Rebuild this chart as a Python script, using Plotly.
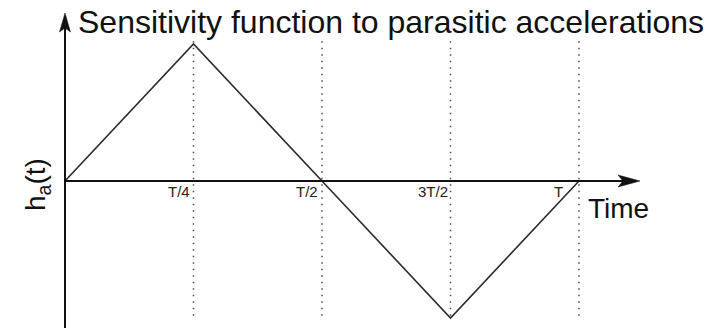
import plotly.graph_objects as go

# ---- data ----
t_values = [0, 0.25, 0.5, 0.75, 1.0]
h_values = [0, 1, 0, -1, 0]
tick_positions = [0.25, 0.5, 0.75, 1.0]
tick_labels = ["T/4", "T/2", "3T/2", "T"]
title_text = "Sensitivity function to parasitic accelerations"
x_label = "Time"
y_label = "h<sub>a</sub>(t)"

# ---- geometry (pixel mapping) ----
W, H = 712, 328
X0_PX, PX_PER_T = 65, 514
Y0_PX, PX_PER_UNIT = 181, 137
xr = [-X0_PX / PX_PER_T, (W - X0_PX) / PX_PER_T]
yr = [-(H - Y0_PX) / PX_PER_UNIT, Y0_PX / PX_PER_UNIT]

x_axis_end = (640 - X0_PX) / PX_PER_T
y_axis_top = (Y0_PX - 13) / PX_PER_UNIT
y_axis_bottom = yr[0] - 0.05

FONT = "Liberation Sans, Arial, sans-serif"
INK = "#111111"

fig = go.Figure()
fig.add_trace(go.Scatter(x=t_values, y=h_values, mode="lines",
                         line=dict(color="#2b2b2b", width=1.6),
                         hoverinfo="skip", showlegend=False))

shapes = []
# dotted guide lines
for tp in tick_positions:
    shapes.append(dict(type="line", xref="x", yref="y", x0=tp, x1=tp,
                       y0=max(h_values) + 0.02, y1=min(h_values) - 0.01,
                       line=dict(color="#4a4a4a", width=1.5, dash="1.5px,5px"),
                       layer="below"))
# axes lines
shapes.append(dict(type="line", xref="x", yref="y", x0=0, x1=x_axis_end - 0.02,
                   y0=0, y1=0, line=dict(color=INK, width=2)))
shapes.append(dict(type="line", xref="x", yref="y", x0=0, x1=0,
                   y0=y_axis_bottom, y1=y_axis_top - 0.05, line=dict(color=INK, width=2)))
# arrowheads (pixel-sized paths anchored at axis ends)
shapes.append(dict(type="path", xref="x", yref="y", xsizemode="pixel", ysizemode="pixel",
                   xanchor=0, yanchor=y_axis_top,
                   path="M0,0 L-5.5,-19 L0,-15 L5.5,-19 Z",
                   fillcolor=INK, line=dict(color=INK, width=0.5)))
shapes.append(dict(type="path", xref="x", yref="y", xsizemode="pixel", ysizemode="pixel",
                   xanchor=x_axis_end, yanchor=0,
                   path="M0,0 L-22,6 L-17,0 L-22,-6 Z",
                   fillcolor=INK, line=dict(color=INK, width=0.5)))

label_xshift = [-2, -2, -1, -14]
annotations = []
for tp, lab, xs in zip(tick_positions, tick_labels, label_xshift):
    annotations.append(dict(x=tp, y=0, xref="x", yref="y", text=lab, showarrow=False,
                            xanchor="right", yanchor="top", xshift=xs, yshift=0,
                            font=dict(family=FONT, size=15, color="#222222")))
annotations.append(dict(x=586 / W, y=1 - 208 / H, xref="paper", yref="paper", text=x_label,
                        showarrow=False, xanchor="left", yanchor="middle",
                        font=dict(family=FONT, size=28, color=INK)))
annotations.append(dict(x=38 / W, y=1 - 185 / H, xref="paper", yref="paper", text=y_label,
                        showarrow=False, xanchor="center", yanchor="middle", textangle=-90,
                        font=dict(family=FONT, size=28, color=INK)))
annotations.append(dict(x=76 / W, y=1 - 22 / H, xref="paper", yref="paper", text=title_text,
                        showarrow=False, xanchor="left", yanchor="middle",
                        font=dict(family=FONT, size=32, color=INK)))

fig.update_layout(
    width=W, height=H, margin=dict(l=0, r=0, t=0, b=0),
    paper_bgcolor="white", plot_bgcolor="white",
    xaxis=dict(range=xr, visible=False, fixedrange=True),
    yaxis=dict(range=yr, visible=False, fixedrange=True),
    shapes=shapes, annotations=annotations,
)
fig.write_html("out.html", config={"displayModeBar": False},
               post_script="document.body.style.margin='0px';")
